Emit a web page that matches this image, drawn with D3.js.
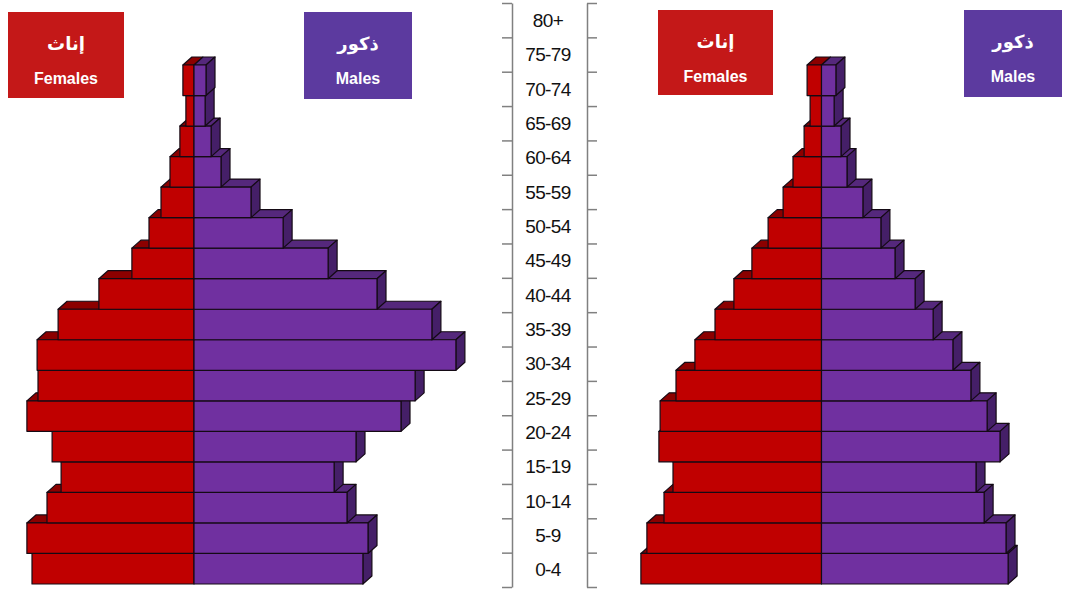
<!DOCTYPE html>
<html>
<head>
<meta charset="utf-8">
<script src="https://cdn.jsdelivr.net/npm/d3@7"></script>
<style>
  body { margin: 0; background: #fff; }
  .age { font-family: "Liberation Sans", Arial, sans-serif; font-size: 19px; letter-spacing: -0.6px; fill: #111; }
  .lg-ar { font-family: "DejaVu Sans", sans-serif; font-weight: bold; font-size: 18px; fill: #fff; }
  .lg-en { font-family: "Liberation Sans", Arial, sans-serif; font-weight: bold; font-size: 16px; fill: #fff; }
</style>
</head>
<body>
<svg width="1065" height="589"></svg>
<script>
const svg = d3.select('svg');

// age groups, top to bottom
const ageGroups = ['80+', '75-79', '70-74', '65-69', '60-64', '55-59', '50-54', '45-49',
  '40-44', '35-39', '30-34', '25-29', '20-24', '15-19', '10-14', '5-9', '0-4'];

// left pyramid (% of population)
const leftFemales = [0.37, 0.27, 0.47, 0.80, 1.10, 1.50, 2.07, 3.17, 4.53, 5.23, 5.20, 5.57, 4.73, 4.43, 4.90, 5.57, 5.40];
const leftMales   = [0.40, 0.37, 0.57, 0.90, 1.90, 2.97, 4.47, 6.10, 7.93, 8.73, 7.37, 6.90, 5.40, 4.67, 5.10, 5.80, 5.63];

// right pyramid (% of population)
const rightFemales = [0.48, 0.38, 0.58, 0.95, 1.28, 1.78, 2.32, 2.92, 3.55, 4.22, 4.85, 5.38, 5.42, 4.95, 5.25, 5.82, 6.02];
const rightMales   = [0.48, 0.42, 0.65, 0.85, 1.38, 1.98, 2.45, 3.12, 3.72, 4.38, 4.98, 5.52, 5.95, 5.15, 5.42, 6.15, 6.22];

const legendFemale = ['إناث', 'Females'];
const legendMale   = ['ذكور', 'Males'];

const colors = {
  fFront: '#c00000', fTop: '#8c0000',
  mFront: '#7030a0', mTop: '#55287c', mSide: '#451f68',
  fBox: '#c41818', mBox: '#5c3a9f'
};

const depth = { dx: 9, dy: 8 };

const xScale = d3.scaleLinear().domain([0, 10]).range([0, 300]);
const yBar = d3.scaleBand().domain(ageGroups).range([65, 584]);

const pyramid = (cx, females, males) => {
  const rows = ageGroups.map((age, i) => ({ age, f: females[i], m: males[i] }))
    .reverse();                            // draw bottom bars first
  const g = svg.append('g');
  const { dx, dy } = depth;
  rows.forEach(d => {
    const y0 = yBar(d.age), y1 = y0 + yBar.bandwidth();
    const fw = xScale(d.f), mw = xScale(d.m);
    const bg = g.append('g')
      .attr('stroke', '#140a14')
      .attr('stroke-width', 1.2)
      .attr('stroke-linejoin', 'round');
    bg.append('polygon')
      .attr('points', [[cx - fw, y0], [cx - fw + dx, y0 - dy], [cx + dx, y0 - dy], [cx, y0]].join(' '))
      .attr('fill', colors.fTop);
    bg.append('rect')
      .attr('x', cx - fw).attr('y', y0)
      .attr('width', fw).attr('height', y1 - y0)
      .attr('fill', colors.fFront);
    bg.append('polygon')
      .attr('points', [[cx, y0], [cx + dx, y0 - dy], [cx + mw + dx, y0 - dy], [cx + mw, y0]].join(' '))
      .attr('fill', colors.mTop);
    bg.append('polygon')
      .attr('points', [[cx + mw, y0], [cx + mw + dx, y0 - dy], [cx + mw + dx, y1 - dy], [cx + mw, y1]].join(' '))
      .attr('fill', colors.mSide);
    bg.append('rect')
      .attr('x', cx).attr('y', y0)
      .attr('width', mw).attr('height', y1 - y0)
      .attr('fill', colors.mFront);
  });
};

pyramid(194, leftFemales, leftMales);
pyramid(821.5, rightFemales, rightMales);

// legend boxes
const legendBox = (x, y, w, h, fill, texts) => {
  const g = svg.append('g');
  g.append('rect')
    .attr('x', x).attr('y', y).attr('width', w).attr('height', h)
    .attr('fill', fill);
  g.append('text')
    .attr('class', 'lg-ar')
    .attr('x', x + w / 2).attr('y', y + 38)
    .attr('text-anchor', 'middle')
    .attr('direction', 'rtl')
    .text(texts[0]);
  g.append('text')
    .attr('class', 'lg-en')
    .attr('x', x + w / 2).attr('y', y + 72)
    .attr('text-anchor', 'middle')
    .text(texts[1]);
};

legendBox(8, 12, 116, 86, colors.fBox, legendFemale);
legendBox(304, 12, 108, 87, colors.mBox, legendMale);
legendBox(658, 10, 115, 85, colors.fBox, legendFemale);
legendBox(964, 10, 98, 87, colors.mBox, legendMale);

// central age axis
const yAxis = d3.scaleLinear().domain([0, ageGroups.length]).range([587, 3]);
const yLabel = d3.scaleBand().domain(ageGroups).range([3, 587]);

const axisL = svg.append('g')
  .attr('transform', 'translate(512,0)')
  .call(d3.axisLeft(yAxis).ticks(ageGroups.length).tickSize(10).tickSizeOuter(0).tickFormat(''));
const axisR = svg.append('g')
  .attr('transform', 'translate(587,0)')
  .call(d3.axisRight(yAxis).ticks(ageGroups.length).tickSize(10).tickSizeOuter(0).tickFormat(''));
[axisL, axisR].forEach(a => {
  a.selectAll('.domain, .tick line')
    .attr('stroke', '#808080')
    .attr('stroke-width', 1.5);
});

svg.append('g').selectAll('text')
  .data(ageGroups).enter()
  .append('text')
    .attr('class', 'age')
    .attr('x', 548)
    .attr('y', d => yLabel(d) + yLabel.bandwidth() / 2)
    .attr('dy', '0.35em')
    .attr('text-anchor', 'middle')
    .text(d => d);
</script>
</body>
</html>
